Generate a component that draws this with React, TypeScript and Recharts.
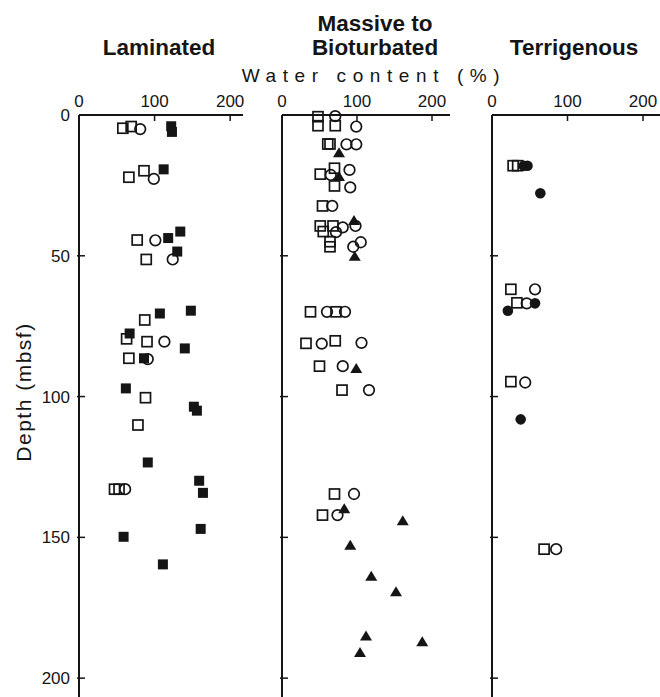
import React from 'react';
import { ScatterChart, Scatter, XAxis, YAxis } from 'recharts';

const W = 660;
const H = 697;
const PLOT_TOP = 115;
const DEPTH_MAX = 206.7;
const INK = '#151515';
const FONT = "'Liberation Sans', Arial, Helvetica, sans-serif";

const waterTicks = [0, 100, 200];
const depthTicks = [0, 50, 100, 150, 200];

// [water content %, depth mbsf]
// Laminated
const lamOpenSquares = [[58, 4.7], [69, 4.1], [66, 22.1], [86, 19.8], [77, 44.4], [89, 51.3], [87, 72.8], [63, 79.5], [90, 80.5], [66, 86.4], [88, 100.4], [78, 110.1], [47, 132.9], [53, 132.9]];
const lamOpenCircles = [[81, 5], [99, 22.7], [101, 44.5], [124, 51.3], [113, 80.5], [91, 86.7], [61, 132.9]];
const lamFilledSquares = [[122, 4], [123, 6], [112, 19.3], [134, 41.4], [118, 43.7], [130, 48.5], [107, 70.5], [148, 69.5], [67, 77.6], [140, 82.9], [86, 86.4], [62, 97.1], [152, 103.6], [156, 105], [91, 123.4], [159, 129.9], [164, 134.2], [161, 147], [59, 149.8], [111, 159.6]];

// Massive to Bioturbated
const bioOpenSquares = [[48, 0.6], [48, 3.8], [71, 3.8], [61, 10.3], [64, 10.3], [70, 18.9], [51, 21], [70, 25.2], [54, 32.3], [51, 39.4], [68, 39.4], [55, 41.4], [64, 45], [64, 46.8], [38, 69.9], [72, 69.9], [32, 81.1], [71, 80.2], [50, 89.2], [80, 97.7], [70, 134.6], [54, 142.1]];
const bioOpenCircles = [[71, 0.4], [99, 4.1], [86, 10.4], [99, 10.4], [90, 19.5], [65, 21.3], [91, 25.7], [67, 32.3], [81, 39.9], [98, 39.4], [72, 41.6], [105, 45.2], [95, 46.8], [60, 69.9], [84, 69.9], [53, 81.2], [106, 80.9], [81, 89.2], [116, 97.7], [96, 134.6], [74, 142.1]];
const bioFilledTriangles = [[76, 13.4], [76, 21.8], [96, 37.5], [97, 50.2], [99, 90], [83, 139.8], [161, 144.1], [91, 152.8], [119, 163.8], [152, 169.3], [112, 185], [187, 187.1], [104, 190.9]];

// Terrigenous
const terOpenSquares = [[28, 18], [34, 18], [25, 61.9], [33, 66.7], [25, 94.7], [69, 154.2]];
const terOpenCircles = [[57, 61.9], [46, 66.9], [44, 95], [85, 154.2]];
const terFilledCircles = [[42, 18], [47, 18], [64, 27.8], [57, 66.9], [21, 69.5], [38, 108.1]];

const pts = (arr: number[][]) => arr.map(([x, y]) => ({ x, y }));

const OpenSquare = (p: any) => (
  <rect x={p.cx - 5} y={p.cy - 5} width={10} height={10} fill="none" stroke={INK} strokeWidth={1.7} />
);
const FilledSquare = (p: any) => (
  <rect x={p.cx - 5} y={p.cy - 5} width={10} height={10} fill={INK} />
);
const OpenCircle = (p: any) => (
  <circle cx={p.cx} cy={p.cy} r={5.3} fill="none" stroke={INK} strokeWidth={1.7} />
);
const FilledCircle = (p: any) => (
  <circle cx={p.cx} cy={p.cy} r={5.3} fill={INK} />
);
const FilledTriangle = (p: any) => (
  <polygon
    points={`${p.cx},${p.cy - 5.5} ${p.cx + 6},${p.cy + 4.5} ${p.cx - 6},${p.cy + 4.5}`}
    fill={INK}
  />
);

type Series = { name: string; data: number[][]; shape: (p: any) => React.ReactElement };

function Panel({ left, right, xMax, showDepthLabels, series }: { left: number; right: number; xMax: number; showDepthLabels: boolean; series: Series[] }) {
  const xTick = (props: any) => {
    const { x, payload } = props;
    return (
      <g>
        {payload.value !== 0 && <line x1={x} y1={PLOT_TOP} x2={x} y2={PLOT_TOP + 6} stroke={INK} strokeWidth={1.5} />}
        <text x={x} y={PLOT_TOP - 8} textAnchor="middle" fontSize={17} fontFamily={FONT} fill={INK}>
          {payload.value}
        </text>
      </g>
    );
  };
  const yTick = (props: any) => {
    const { y, payload } = props;
    return (
      <g>
        {payload.value !== 0 && <line x1={left - 2} y1={y} x2={left + 6} y2={y} stroke={INK} strokeWidth={1.5} />}
        {showDepthLabels && (
          <text x={left - 9} y={y} dy="0.36em" textAnchor="end" fontSize={17} fontFamily={FONT} fill={INK}>
            {payload.value}
          </text>
        )}
      </g>
    );
  };
  return (
    <div style={{ position: 'absolute', left: 0, top: 0 }}>
      <ScatterChart width={W} height={H} margin={{ top: PLOT_TOP - 1, left: left - 1, right: W - right, bottom: 0 }}>
        <XAxis
          type="number"
          dataKey="x"
          orientation="top"
          domain={[0, xMax]}
          ticks={waterTicks}
          interval={0}
          height={1}
          axisLine={{ stroke: INK, strokeWidth: 2 }}
          tickLine={false}
          tick={xTick}
        />
        <YAxis
          type="number"
          dataKey="y"
          reversed
          domain={[0, DEPTH_MAX]}
          ticks={depthTicks}
          interval={0}
          width={1}
          axisLine={{ stroke: INK, strokeWidth: 2 }}
          tickLine={false}
          tick={yTick}
        />
        {series.map((s) => (
          <Scatter key={s.name} name={s.name} data={pts(s.data)} shape={s.shape} isAnimationActive={false} />
        ))}
      </ScatterChart>
    </div>
  );
}

export default function App() {
  return (
    <div style={{ position: 'absolute', left: 0, top: 0, width: W, height: H, background: '#fff', overflow: 'hidden' }}>
      <Panel
        left={79}
        right={243}
        xMax={217}
        showDepthLabels
        series={[
          { name: 'lamOpenSquares', data: lamOpenSquares, shape: OpenSquare },
          { name: 'lamOpenCircles', data: lamOpenCircles, shape: OpenCircle },
          { name: 'lamFilledSquares', data: lamFilledSquares, shape: FilledSquare },
        ]}
      />
      <Panel
        left={282}
        right={450}
        xMax={224}
        showDepthLabels={false}
        series={[
          { name: 'bioOpenSquares', data: bioOpenSquares, shape: OpenSquare },
          { name: 'bioOpenCircles', data: bioOpenCircles, shape: OpenCircle },
          { name: 'bioFilledTriangles', data: bioFilledTriangles, shape: FilledTriangle },
        ]}
      />
      <Panel
        left={492}
        right={660}
        xMax={222.5}
        showDepthLabels={false}
        series={[
          { name: 'terOpenSquares', data: terOpenSquares, shape: OpenSquare },
          { name: 'terOpenCircles', data: terOpenCircles, shape: OpenCircle },
          { name: 'terFilledCircles', data: terFilledCircles, shape: FilledCircle },
        ]}
      />
      <svg width={W} height={H} style={{ position: 'absolute', left: 0, top: 0, pointerEvents: 'none' }}>
        <g fontFamily={FONT} fill={INK}>
          <text x={159} y={55} textAnchor="middle" fontWeight="bold" fontSize={22.5}>Laminated</text>
          <text x={375} y={31} textAnchor="middle" fontWeight="bold" fontSize={22.5}>Massive to</text>
          <text x={375} y={55} textAnchor="middle" fontWeight="bold" fontSize={22.5}>Bioturbated</text>
          <text x={574} y={55} textAnchor="middle" fontWeight="bold" fontSize={22.5}>Terrigenous</text>
          <text x={374} y={82} textAnchor="middle" fontSize={19} letterSpacing={6.6}>Water content (%)</text>
          <text transform="translate(31,392) rotate(-90)" textAnchor="middle" fontSize={21} letterSpacing={1.5}>Depth (mbsf)</text>
        </g>
      </svg>
    </div>
  );
}
